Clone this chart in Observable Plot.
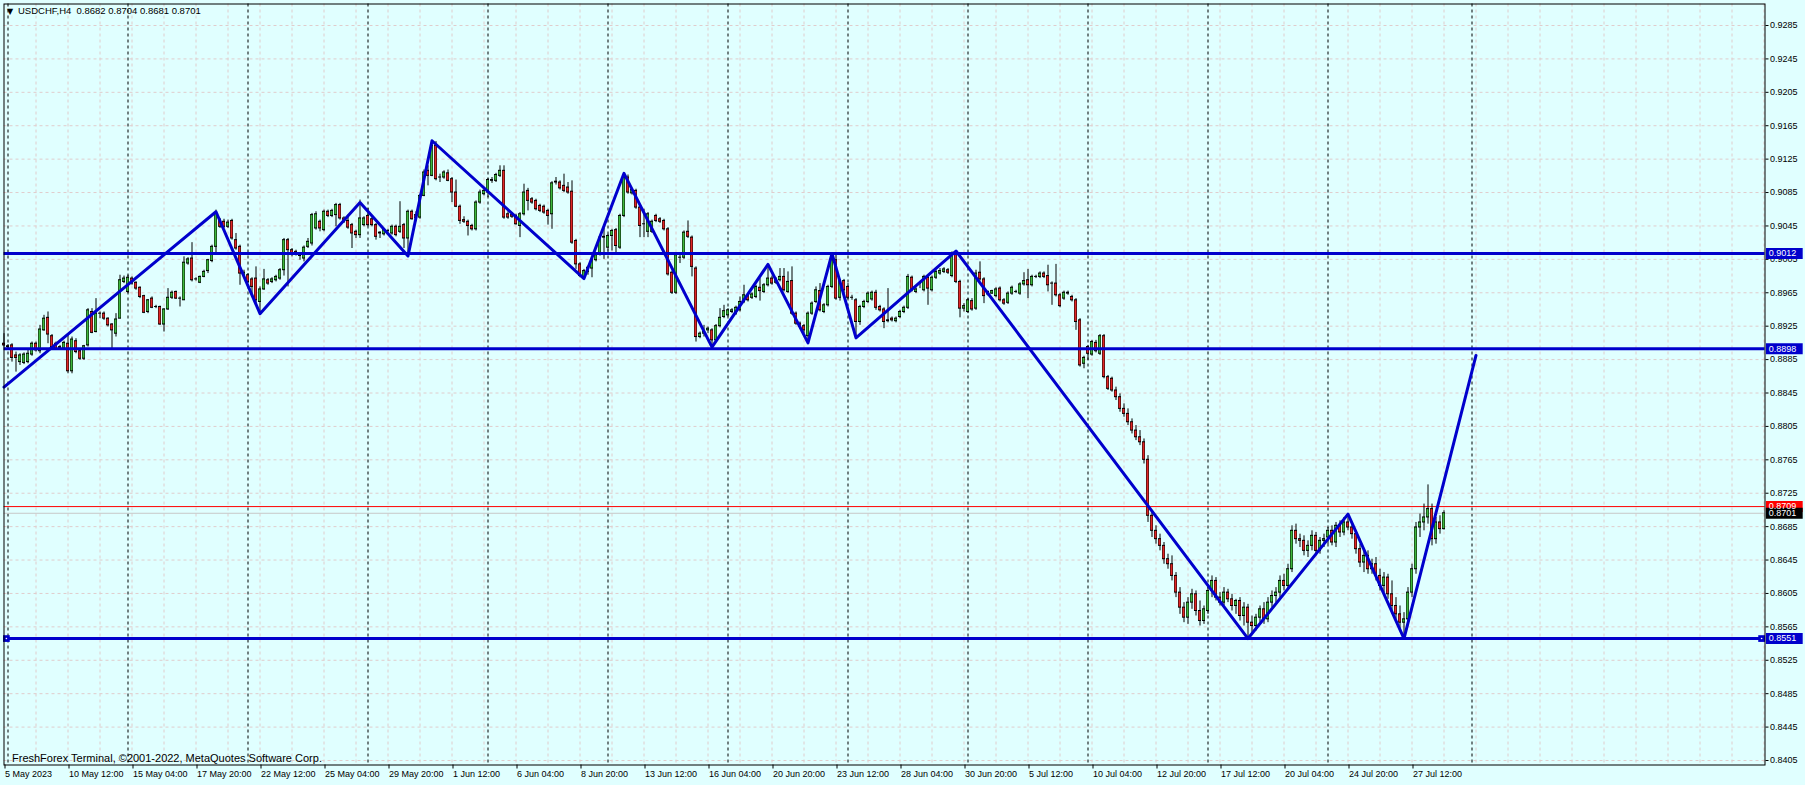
<!DOCTYPE html>
<html>
<head>
<meta charset="utf-8">
<script src="https://cdn.jsdelivr.net/npm/d3@7"></script>
<script src="https://cdn.jsdelivr.net/npm/@observablehq/plot@0.6"></script>
<style>
  html, body { margin: 0; padding: 0; background: #e0ffff; overflow: hidden; }
  #chart svg { display: block; }
</style>
</head>
<body>
<div id="chart"></div>
<script>
// ---- DATA (prices in 1/10000: [open, high, low, close]) ----
const symbolTitle = "USDCHF,H4  0.8682 0.8704 0.8681 0.8701";
const copyright = "FreshForex Terminal, \u00A92001-2022, MetaQuotes Software Corp.";

const w05May = [[8904,8916,8900,8902]];
const w08May = [
 [8901,8903,8898,8900],[8902,8904,8882,8887],[8890,8894,8870,8887],[8882,8892,8878,8890],[8881,8893,8879,8891],[8882,8896,8880,8892],
 [8891,8906,8889,8904],[8904,8906,8894,8896],[8895,8926,8892,8921],[8920,8938,8919,8934],[8935,8942,8904,8915],[8913,8915,8896,8900],
 [8904,8906,8896,8898],[8899,8902,8896,8900],[8898,8907,8896,8905],[8904,8916,8868,8871],[8871,8912,8868,8909],[8907,8910,8892,8894],
 [8895,8896,8884,8886],[8886,8902,8884,8901],[8902,8946,8900,8944],[8942,8946,8916,8917],[8918,8958,8917,8940],[8940,8942,8934,8940],
 [8940,8942,8932,8934],[8934,8935,8924,8926],[8927,8928,8896,8920],[8916,8940,8912,8933],[8934,8986,8934,8980],[8978,8985,8976,8982]];
const w15May = [
 [8966,8986,8964,8983],[8982,8984,8974,8976],[8977,8978,8968,8970],[8971,8972,8958,8960],[8961,8962,8940,8941],[8942,8957,8940,8956],
 [8958,8960,8946,8947],[8948,8950,8946,8948],[8948,8949,8926,8927],[8927,8946,8918,8945],[8945,8970,8944,8959],[8959,8967,8957,8965],
 [8966,8967,8957,8958],[8958,8960,8948,8958],[8956,9008,8956,9001],[9000,9007,8998,9005],[9006,9025,8978,8980],[8981,8983,8979,8981],
 [8977,8985,8976,8984],[8984,8992,8983,8990],[8991,9005,8988,9004],[9003,9022,9001,9020],[9020,9064,9010,9060],[9052,9054,9042,9044],
 [9050,9053,9042,9044],[9044,9052,9042,9049],[9051,9053,9028,9030],[9028,9036,9016,9018],[9020,9022,8974,8988],[8985,8992,8982,8989]];
const w22May = [
 [8986,8988,8976,8978],[8981,8983,8960,8972],[8982,8996,8952,8956],[8954,8972,8941,8969],[8969,8993,8968,8981],[8980,8982,8974,8976],
 [8978,8983,8976,8981],[8980,8986,8978,8984],[8982,8994,8980,8992],[8992,9030,8985,9028],[9028,9030,8972,9016],[9016,9018,9008,9011],
 [9014,9016,9009,9011],[9010,9012,9004,9009],[9006,9021,9002,9019],[9020,9030,9018,9026],[9024,9060,9021,9058],[9042,9062,9040,9059],
 [9050,9052,9038,9042],[9040,9064,9038,9062],[9062,9064,9055,9057],[9057,9065,9055,9063],[9058,9072,9044,9070],[9070,9072,9052,9054],
 [9054,9056,9048,9050],[9051,9058,9041,9043],[9046,9048,9018,9036],[9038,9040,9030,9034],[9034,9076,9030,9054],[9046,9056,9044,9054]];
const w29May = [
 [9057,9066,9044,9046],[9053,9055,9044,9046],[9046,9048,9028,9032],[9037,9038,9030,9036],[9035,9042,9033,9040],[9039,9041,9037,9039],
 [9036,9046,9034,9044],[9044,9046,9032,9034],[9038,9074,9036,9044],[9046,9048,9018,9030],[9030,9064,9009,9062],[9062,9064,9052,9053],
 [9058,9062,9050,9054],[9055,9083,9053,9081],[9081,9112,9080,9109],[9111,9117,9093,9105],[9105,9147,9104,9141],[9141,9146,9099,9101],
 [9103,9107,9097,9103],[9103,9111,9101,9109],[9108,9112,9098,9099],[9101,9103,9073,9085],[9085,9100,9067,9068],[9068,9070,9047,9051],
 [9052,9056,9048,9050],[9050,9052,9033,9045],[9045,9047,9039,9041],[9041,9075,9039,9073],[9073,9088,9071,9085],[9083,9089,9081,9087]];
const w05Jun = [
 [9085,9102,9079,9100],[9099,9103,9096,9100],[9099,9108,9097,9106],[9105,9117,9103,9111],[9111,9117,9053,9055],[9059,9062,9053,9055],
 [9058,9061,9054,9056],[9057,9059,9046,9047],[9045,9061,9031,9059],[9059,9095,9057,9085],[9087,9090,9063,9075],[9077,9079,9071,9073],
 [9075,9077,9063,9065],[9069,9071,9061,9063],[9068,9070,9059,9061],[9063,9065,9046,9057],[9059,9098,9041,9096],[9097,9103,9094,9098],
 [9097,9099,9088,9090],[9093,9107,9085,9087],[9091,9097,9083,9085],[9086,9099,9023,9025],[9027,9029,8993,8999],[8999,9001,8983,8985],
 [8984,8993,8982,8991],[8990,8997,8986,8995],[8994,9006,8983,9004],[9004,9012,9002,9010],[9011,9033,9009,9031],[9031,9042,9005,9032]];
const w12Jun = [
 [9019,9035,9015,9033],[9033,9041,9015,9039],[9040,9042,9013,9021],[9019,9059,9017,9057],[9057,9108,9055,9103],[9103,9106,9083,9085],
 [9084,9090,9082,9088],[9087,9089,9065,9067],[9067,9069,9031,9045],[9047,9065,9031,9047],[9038,9061,9031,9059],[9038,9052,9036,9050],
 [9057,9059,9049,9051],[9053,9055,9048,9050],[9051,9053,9039,9041],[9041,9043,8985,8987],[8989,8991,8963,8965],[8965,9012,8963,9010],
 [9007,9011,9000,9007],[9007,9039,9005,9037],[9038,9051,9030,9032],[9031,9033,8984,8996],[8994,8996,8906,8912],[8912,8918,8910,8916],
 [8916,8926,8912,8918],[8920,8924,8916,8922],[8920,8922,8900,8908],[8908,8927,8906,8925],[8925,8946,8923,8935],[8936,8950,8934,8943]];
const w19Jun = [
 [8938,8946,8936,8944],[8942,8946,8940,8944],[8940,8949,8938,8947],[8944,8960,8942,8954],[8954,8974,8952,8962],[8961,8963,8954,8956],
 [8959,8965,8957,8963],[8960,8974,8958,8972],[8971,8982,8955,8967],[8966,8976,8964,8974],[8974,8999,8972,8982],[8982,8985,8974,8976],
 [8977,8983,8975,8981],[8980,8994,8978,8984],[8984,8994,8966,8968],[8966,8990,8964,8978],[8979,8996,8938,8940],[8940,8942,8926,8928],
 [8928,8930,8921,8924],[8925,8927,8916,8920],[8913,8942,8905,8940],[8940,8954,8938,8952],[8954,8972,8952,8968],[8967,8976,8942,8944],
 [8942,8952,8940,8950],[8950,8974,8948,8972],[8972,9012,8970,9004],[9004,9010,8956,8958],[8959,8981,8955,8979],[8979,8981,8962,8968]];
const w26Jun = [
 [8972,8976,8957,8959],[8959,8962,8956,8959],[8956,8958,8911,8930],[8930,8950,8926,8948],[8948,8956,8946,8954],[8954,8966,8952,8964],
 [8957,8967,8955,8965],[8965,8968,8944,8947],[8948,8950,8942,8944],[8945,8947,8922,8930],[8931,8970,8929,8932],[8934,8936,8930,8932],
 [8931,8936,8929,8934],[8936,8944,8934,8942],[8942,8949,8940,8947],[8947,8987,8945,8984],[8983,8985,8966,8968],[8966,8971,8964,8969],
 [8976,8978,8970,8976],[8968,8986,8966,8984],[8983,8985,8950,8970],[8968,8985,8966,8983],[8983,8992,8981,8990],[8988,8994,8986,8991],
 [8990,8995,8988,8993],[8992,8994,8987,8989],[8985,9014,8983,9012],[9012,9015,8976,8978],[8978,8980,8935,8946],[8946,8952,8942,8949]];
const w03Jul = [
 [8942,8958,8940,8956],[8955,8958,8943,8945],[8946,8992,8944,8988],[8989,9002,8979,8981],[8981,8983,8952,8961],[8963,8967,8961,8966],
 [8964,8968,8963,8967],[8961,8971,8959,8969],[8970,8972,8954,8956],[8956,8958,8950,8952],[8953,8966,8951,8964],[8964,8973,8962,8971],
 [8966,8968,8964,8966],[8964,8977,8962,8975],[8975,8989,8973,8979],[8980,8993,8958,8974],[8974,8986,8972,8984],[8984,8986,8982,8984],
 [8984,8990,8982,8988],[8988,8990,8982,8984],[8985,8998,8966,8974],[8976,8978,8950,8976],[8976,8999,8960,8962],[8962,8964,8947,8949],
 [8958,8967,8956,8965],[8964,8967,8962,8965],[8960,8962,8954,8956],[8956,8958,8920,8930],[8932,8934,8876,8878],[8880,8889,8874,8887]];
const w10Jul = [
 [8900,8902,8884,8892],[8891,8908,8889,8906],[8905,8908,8893,8895],[8892,8915,8890,8913],[8913,8915,8862,8864],[8864,8866,8848,8850],
 [8862,8864,8846,8848],[8848,8852,8836,8840],[8840,8844,8822,8826],[8826,8832,8816,8820],[8820,8826,8806,8810],[8810,8814,8796,8800],
 [8800,8806,8788,8792],[8792,8800,8782,8786],[8786,8790,8760,8765],[8765,8770,8690,8698],[8698,8702,8672,8680],[8680,8686,8664,8670],
 [8670,8676,8656,8662],[8662,8666,8640,8646],[8646,8652,8634,8640],[8640,8650,8620,8626],[8626,8630,8600,8606],[8606,8612,8580,8588],
 [8588,8594,8570,8576],[8576,8600,8568,8594],[8594,8610,8586,8604],[8604,8608,8578,8584],[8584,8596,8566,8572],[8572,8590,8568,8586]];
const w17Jul = [
 [8584,8612,8580,8608],[8608,8626,8600,8620],[8620,8624,8596,8600],[8600,8606,8590,8594],[8594,8612,8590,8606],[8606,8610,8594,8598],
 [8598,8604,8584,8590],[8590,8598,8580,8596],[8596,8600,8572,8578],[8578,8594,8566,8588],[8588,8592,8551,8570],[8570,8578,8556,8566],
 [8566,8580,8560,8576],[8576,8590,8570,8586],[8586,8594,8568,8574],[8574,8600,8570,8594],[8594,8608,8588,8602],[8602,8612,8594,8606],
 [8606,8626,8600,8620],[8620,8628,8608,8614],[8614,8640,8610,8634],[8634,8686,8630,8680],[8680,8688,8664,8670],[8670,8676,8660,8668],
 [8668,8674,8650,8656],[8656,8668,8648,8662],[8662,8680,8656,8674],[8674,8678,8650,8656],[8656,8672,8652,8668],[8668,8676,8660,8670]];
const w24Jul = [
 [8672,8684,8664,8680],[8680,8686,8662,8666],[8666,8690,8660,8686],[8686,8692,8672,8678],[8678,8696,8674,8690],[8690,8700,8680,8684],
 [8684,8690,8670,8676],[8676,8680,8652,8658],[8658,8664,8636,8642],[8642,8656,8630,8650],[8650,8656,8628,8634],[8634,8646,8628,8640],
 [8640,8648,8620,8626],[8626,8634,8608,8614],[8614,8630,8606,8624],[8624,8628,8598,8604],[8604,8620,8580,8590],[8590,8600,8574,8580],
 [8580,8590,8562,8570],[8570,8582,8551,8574],[8574,8612,8570,8606],[8606,8640,8600,8634],[8634,8690,8628,8684],[8684,8700,8672,8690],
 [8690,8712,8680,8696],[8696,8735,8688,8706],[8706,8712,8662,8670],[8670,8696,8664,8690],[8690,8698,8676,8682],[8682,8704,8681,8701]];

// ZigZag turning points: bar index and price
const zigBars   = [0, 53, 64, 89, 101, 107, 145, 155, 177, 191, 201, 207, 213, 238, 311, 336, 350, 368];
const zigPrices = [0.8852,0.9062,0.8940,0.9073,0.9009,0.9147,0.8982,0.9108,0.8900,0.8999,0.8905,0.9012,0.8911,0.9015,0.8551,0.8700,0.8551,0.8890];

// Horizontal levels
const levelPrices = [0.9012, 0.8898, 0.8551];
const askPrice = 0.8709;
const bidPrice = 0.8701;

// Axis ticks
const priceTicks = [0.8405,0.8445,0.8485,0.8525,0.8565,0.8605,0.8645,0.8685,0.8725,0.8765,0.8805,0.8845,0.8885,0.8925,0.8965,0.9005,0.9045,0.9085,0.9125,0.9165,0.9205,0.9245,0.9285];
const timeLabels = ["5 May 2023","10 May 12:00","15 May 04:00","17 May 20:00","22 May 12:00","25 May 04:00","29 May 20:00","1 Jun 12:00","6 Jun 04:00","8 Jun 20:00","13 Jun 12:00","16 Jun 04:00","20 Jun 20:00","23 Jun 12:00","28 Jun 04:00","30 Jun 20:00","5 Jul 12:00","10 Jul 04:00","12 Jul 20:00","17 Jul 12:00","20 Jul 04:00","24 Jul 20:00","27 Jul 12:00"];
const timeLabelBars = [0,16,32,48,64,80,96,112,128,144,160,176,192,208,224,240,256,272,288,304,320,336,352];
const separatorBars = [1,31,61,91,121,151,181,211,241,271,301,331,367];

// ---- BUILD ----
const weeks = [w05May,w08May,w15May,w22May,w29May,w05Jun,w12Jun,w19Jun,w26Jun,w03Jul,w10Jul,w17Jul,w24Jul];
const bars = weeks.flat().map((d, i) => ({i, o: d[0]/1e4, h: d[1]/1e4, l: d[2]/1e4, c: d[3]/1e4}));
const zig = zigBars.map((b, k) => ({b, p: zigPrices[k]}));
const labelMap = new Map(timeLabelBars.map((b, k) => [b, timeLabels[k]]));
const gridBars = d3.range(8, 441, 8);

const BLUE = "#0000cc";
const BULL = "#3cb83c";
const BEAR = "#e02626";
const GRID = "#e0cccc";

const boxes = [
  {p: levelPrices[0], fill: BLUE},
  {p: levelPrices[1], fill: BLUE},
  {p: levelPrices[2], fill: BLUE},
  {p: askPrice, fill: "#ff0000"},
  {p: bidPrice, fill: "#000000"}
];

const chart = Plot.plot({
  width: 1805,
  height: 785,
  marginLeft: 3.5,
  marginRight: 40.5,
  marginTop: 3.5,
  marginBottom: 20.5,
  x: {type: "linear", domain: [0, 440], range: [3.5, 1763.5]},
  y: {type: "linear", domain: [0.8405, 0.9285], range: [760, 25]},
  style: {background: "#e0ffff", fontFamily: "'Liberation Sans', Arial, sans-serif", fontSize: "9px", color: "black", overflow: "visible"},
  marks: [
    // grid
    Plot.ruleY(priceTicks, {stroke: GRID, strokeDasharray: "3,3", strokeWidth: 1}),
    Plot.ruleX(gridBars, {stroke: GRID, strokeDasharray: "3,3", strokeWidth: 1}),
    // period separators
    Plot.ruleX(separatorBars, {stroke: "black", strokeDasharray: "3,3", strokeWidth: 1}),
    // bid / ask lines
    Plot.ruleY([bidPrice], {stroke: "#c8c8c8", strokeWidth: 1}),
    Plot.ruleY([askPrice], {stroke: "#ff0000", strokeWidth: 1}),
    // candles
    Plot.ruleX(bars, {x: "i", y1: "l", y2: "h", stroke: "black", strokeWidth: 1}),
    Plot.rect(bars, {x1: d => d.i - 0.375, x2: d => d.i + 0.375, y1: d => Math.min(d.o, d.c), y2: d => Math.max(d.o, d.c), fill: "black", insetTop: -0.5, insetBottom: -0.5}),
    Plot.rect(bars, {x1: d => d.i - 0.25, x2: d => d.i + 0.25, y1: d => Math.min(d.o, d.c), y2: d => Math.max(d.o, d.c), fill: d => d.c >= d.o ? BULL : BEAR, insetTop: 0.5, insetBottom: 0.5}),
    // horizontal levels
    Plot.ruleY(levelPrices, {stroke: BLUE, strokeWidth: 3}),
    // zigzag
    Plot.line(zig, {x: "b", y: "p", stroke: BLUE, strokeWidth: 3}),
    // selection markers on the 0.8551 line
    Plot.dot([{x: 0.6, y: levelPrices[2]}, {x: 439.4, y: levelPrices[2]}], {x: "x", y: "y", symbol: "square", r: 3.8, fill: BLUE}),
    Plot.dot([{x: 0.6, y: levelPrices[2]}, {x: 439.4, y: levelPrices[2]}], {x: "x", y: "y", r: 0.8, fill: "white"}),
    // frame
    Plot.frame({stroke: "black", strokeWidth: 1}),
    // axes
    Plot.axisY(priceTicks, {anchor: "right", tickSize: 3, tickPadding: 2, tickFormat: d => d.toFixed(4), fontSize: 9, fill: "black"}),
    Plot.axisX(timeLabelBars, {anchor: "bottom", tickSize: 4, tickPadding: 2, tickFormat: d => labelMap.get(d), textAnchor: "start", dx: 1, fontSize: 9}),
    // value boxes on the price scale
    Plot.ruleY(boxes, {y: "p", x1: 440.6, x2: 449.8, stroke: "fill", strokeWidth: 11}),
    Plot.text(boxes, {y: "p", x: 441.2, text: d => d.p.toFixed(4), fill: "white", textAnchor: "start", fontSize: 9}),
    // texts
    Plot.text(["\u25BC"], {frameAnchor: "top-left", dx: 3, dy: 4, fontSize: 8, fontFamily: "'DejaVu Sans', sans-serif", fill: "black"}),
    Plot.text([symbolTitle], {frameAnchor: "top-left", dx: 14, dy: 3, fontSize: 9.5, fill: "black"}),
    Plot.text([copyright], {frameAnchor: "bottom-left", dx: 8, dy: -3, fontSize: 11, fill: "black"})
  ]
});
document.getElementById("chart").appendChild(chart);
</script>
</body>
</html>
